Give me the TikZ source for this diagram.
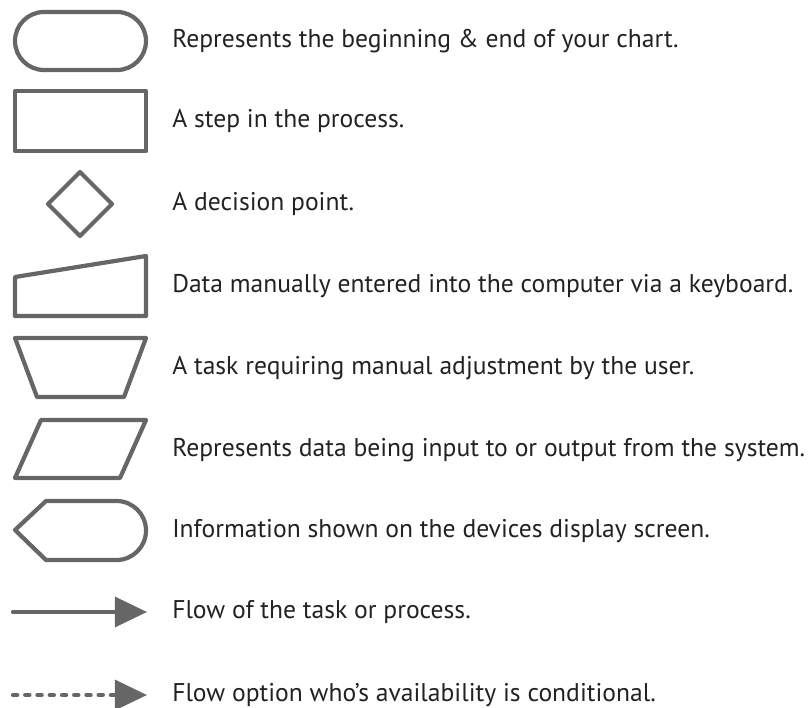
\documentclass[tikz,border=0pt]{standalone}
\usepackage{fontspec}
\setmainfont{PT Sans}
\usetikzlibrary{arrows.meta}
\definecolor{symgray}{RGB}{102,102,102}
\definecolor{textgray}{RGB}{34,34,34}

\begin{document}
\begin{tikzpicture}[x=0.025cm,y=-0.025cm,
  sym/.style={draw=symgray,line width=3pt,line join=round},
  desc/.style={anchor=base west,inner sep=0pt,text=textgray,font=\fontsize{18.2}{21}\selectfont},
  flow/.style={draw=symgray,line width=3pt,line cap=round,-{Triangle[length=0.8cm,width=0.74cm]}}]
\useasboundingbox (0,0) rectangle (809,708);

\draw[sym,rounded corners=0.725cm] (15,12) rectangle (146,70);
\draw[sym] (15,91) rectangle (146,151);
\draw[sym] (80,172) -- (112,204) -- (80,236) -- (48,204) -- cycle;
\draw[sym] (15,277) -- (146,256) -- (146,316) -- (15,316) -- cycle;
\draw[sym] (15,338) -- (146,338) -- (124,397) -- (37,397) -- cycle;
\draw[sym] (41,420) -- (146,420) -- (120,478) -- (15,478) -- cycle;
\draw[sym] (15,530) -- (46,501) -- (116.5,501)
  arc[start angle=90,end angle=-90,radius=0.7375cm] -- (46,560) -- cycle;

\coordinate (flowA) at (13,612);
\coordinate (flowB) at (147,612);
\coordinate (condA) at (13,695);
\coordinate (condB) at (147,695);
\draw[flow] (flowA) -- (flowB);
\draw[flow,dash pattern=on 3pt off 5.7pt] (condA) -- (condB);

\node[desc] (terminal) at (172,48) {Represents the beginning \& end of your chart.};
\node[desc] (process) at (172,128) {A step in the process.};
\node[desc] (decision) at (172,211) {A decision point.};
\node[desc] (manualin) at (172,293) {Data manually entered into the computer via a keyboard.};
\node[desc] (manualop) at (172,374) {A task requiring manual adjustment by the user.};
\node[desc] (data) at (172,456) {Represents data being input to or output from the system.};
\node[desc] (display) at (172,537) {Information shown on the devices display screen.};
\node[desc] (flow) at (172,618) {Flow of the task or process.};
\node[desc] (cond) at (172,701) {Flow option who’s availability is conditional.};
\end{tikzpicture}
\end{document}
